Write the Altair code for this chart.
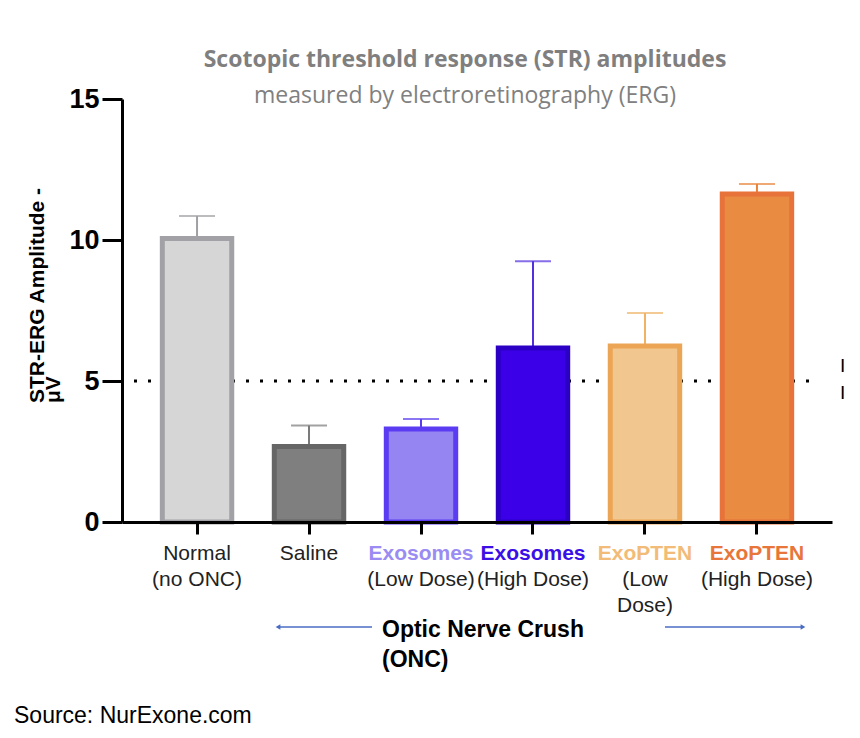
import altair as alt
import pandas as pd

# ---- data ----
categories = ["Normal (no ONC)", "Saline", "Exosomes (Low Dose)",
              "Exosomes (High Dose)", "ExoPTEN (Low Dose)", "ExoPTEN (High Dose)"]
means = [10.05, 2.68, 3.30, 6.17, 6.24, 11.63]
upper = [10.85, 3.42, 3.65, 9.25, 7.41, 11.99]
fills = ["#d6d6d6", "#7f7f7f", "#9585f3", "#3b00e8", "#f2c68f", "#e98b40"]
strokes = ["#a2a2a6", "#666666", "#5b3cf2", "#2c00c4", "#eca555", "#e8733a"]
err_colors = ["#a0a0a4", "#7a7a7a", "#5a3cf0", "#5230e0", "#f0b366", "#e8843a"]
threshold = 5

label_cat = [0, 0, 1, 2, 2, 3, 3, 4, 4, 4, 5, 5]
label_line = [0, 1, 0, 0, 1, 0, 1, 0, 1, 2, 0, 1]
label_text = ["Normal", "(no ONC)", "Saline", "Exosomes", "(Low Dose)", "Exosomes",
              "(High Dose)", "ExoPTEN", "(Low", "Dose)", "ExoPTEN", "(High Dose)"]
label_color = ["#222222", "#222222", "#222222", "#9a8cf2", "#222222", "#3a10e6",
               "#222222", "#f2bb78", "#222222", "#222222", "#e8763a", "#222222"]
label_bold = [False, False, False, True, False, True, False, True, False, False, True, False]

title_text = "Scotopic threshold response (STR) amplitudes"
subtitle_text = "measured by electroretinography (ERG)"
y_title_lines = ["STR-ERG Amplitude -", "μV"]
onc_lines = ["Optic Nerve Crush", "(ONC)"]
source_text = "Source: NurExone.com"

W, H = 710, 423
X0, Y0 = 122, 99  # page position of plot origin


def px(x):
    return x - X0


def py(y):
    return y - Y0


df = pd.DataFrame({"cat": categories, "mean": means, "upper": upper})
labels = pd.DataFrame({
    "cat": [categories[i] for i in label_cat],
    "line": label_line,
    "text": label_text,
    "col": label_color,
    "bold": label_bold,
})
labels["ypos"] = py(554) + labels["line"] * 26

xscale = alt.Scale(domain=categories, paddingInner=0.38, paddingOuter=0.36)
xenc = alt.X("cat:N", sort=categories, scale=xscale,
             axis=alt.Axis(labels=False, title=None, tickSize=12, tickWidth=3,
                           tickColor="black", domainColor="black", domainWidth=3,
                           zindex=1))
yenc = alt.Y("mean:Q", scale=alt.Scale(domain=[0, 15], nice=False),
             axis=alt.Axis(values=[0, 5, 10, 15], title=None, grid=False,
                           tickSize=20, tickWidth=3, tickColor="black",
                           domainColor="black", domainWidth=3,
                           labelFontSize=27, labelFontWeight="bold",
                           labelColor="black", labelFont="Liberation Sans",
                           labelPadding=3, zindex=1))

base = alt.Chart(df)

dotted = alt.Chart(pd.DataFrame({"v": [threshold]})).mark_rule(
    color="black", strokeWidth=3, strokeDash=[3, 11]
).encode(y=alt.Y("v:Q"), x=alt.value(px(134)), x2=alt.value(px(820)))

err_line = base.mark_rule(strokeWidth=2).encode(
    x=xenc, y=yenc, y2="upper:Q",
    color=alt.Color("cat:N", scale=alt.Scale(domain=categories, range=err_colors), legend=None),
)
err_cap = base.mark_tick(thickness=2, size=36).encode(
    x=xenc, y=alt.Y("upper:Q"),
    color=alt.Color("cat:N", scale=alt.Scale(domain=categories, range=err_colors), legend=None),
)
bars = base.mark_bar(strokeWidth=5).encode(
    x=xenc, y=yenc,
    fill=alt.Fill("cat:N", scale=alt.Scale(domain=categories, range=fills), legend=None),
    stroke=alt.Stroke("cat:N", scale=alt.Scale(domain=categories, range=strokes), legend=None),
)

lab_bold = alt.Chart(labels).transform_filter("datum.bold").mark_text(
    font="Liberation Sans", fontSize=21, fontWeight="bold", baseline="middle", align="center"
).encode(x=alt.X("cat:N", sort=categories, scale=xscale), y=alt.Y("ypos:Q", scale=None),
         text="text:N", color=alt.Color("col:N", scale=None))
lab_norm = alt.Chart(labels).transform_filter("!datum.bold").mark_text(
    font="Liberation Sans", fontSize=21, baseline="middle", align="center"
).encode(x=alt.X("cat:N", sort=categories, scale=xscale), y=alt.Y("ypos:Q", scale=None),
         text="text:N", color=alt.Color("col:N", scale=None))

one = pd.DataFrame({"a": [0]})


def txt(text, x, y, **kw):
    return alt.Chart(one).mark_text(**kw).encode(
        x=alt.value(px(x)), y=alt.value(py(y)), text=alt.value(text))


title = txt(title_text, 465, 60, font="Open Sans", fontSize=23, fontWeight="bold",
            color="#7f7f7f", align="center", baseline="middle")
subtitle = txt(subtitle_text, 465, 96, font="Open Sans", fontSize=23,
               color="#808080", align="center", baseline="middle")
ytitle1 = txt(y_title_lines[0], 38, 403, font="Liberation Sans", fontSize=21, fontWeight="bold",
              color="black", angle=270, align="left", baseline="middle")
ytitle2 = txt(y_title_lines[1], 54, 403, font="Liberation Sans", fontSize=21, fontWeight="bold",
              color="black", angle=270, align="left", baseline="middle")
onc1 = txt(onc_lines[0], 382, 630, font="Liberation Sans", fontSize=23, fontWeight="bold",
           color="black", align="left", baseline="middle")
onc2 = txt(onc_lines[1], 382, 660, font="Liberation Sans", fontSize=23, fontWeight="bold",
           color="black", align="left", baseline="middle")
source = txt(source_text, 14, 716, font="Liberation Sans", fontSize=23,
             color="black", align="left", baseline="middle")
cut1 = txt("I", 840, 366, font="Liberation Sans", fontSize=19, color="black",
           align="left", baseline="middle")
cut2 = txt("I", 840, 393, font="Liberation Sans", fontSize=19, color="black",
           align="left", baseline="middle")

arrow_col = "#4a6cc4"
arrow_l = alt.Chart(one).mark_rule(color=arrow_col, strokeWidth=1.5).encode(
    x=alt.value(px(278)), x2=alt.value(px(372)), y=alt.value(py(627)))
arrow_r = alt.Chart(one).mark_rule(color=arrow_col, strokeWidth=1.5).encode(
    x=alt.value(px(665)), x2=alt.value(px(803)), y=alt.value(py(627)))
head_l = alt.Chart(one).mark_point(shape="triangle-left", filled=True, color=arrow_col,
                                   size=30, opacity=1).encode(
    x=alt.value(px(278)), y=alt.value(py(627)))
head_r = alt.Chart(one).mark_point(shape="triangle-right", filled=True, color=arrow_col,
                                   size=30, opacity=1).encode(
    x=alt.value(px(803)), y=alt.value(py(627)))

chart = alt.layer(
    dotted, err_line, bars, err_cap, lab_bold, lab_norm,
    title, subtitle, ytitle1, ytitle2, onc1, onc2, source, cut1, cut2,
    arrow_l, arrow_r, head_l, head_r,
).resolve_scale(color="independent").properties(
    width=W, height=H,
    autosize=alt.AutoSizeParams(type="none"),
    padding={"left": X0 - 8, "top": Y0 - 8, "right": 18, "bottom": 207},
    background="white",
).configure_view(stroke=None)

chart.save("out.html", embed_options={"renderer": "svg", "actions": False})
